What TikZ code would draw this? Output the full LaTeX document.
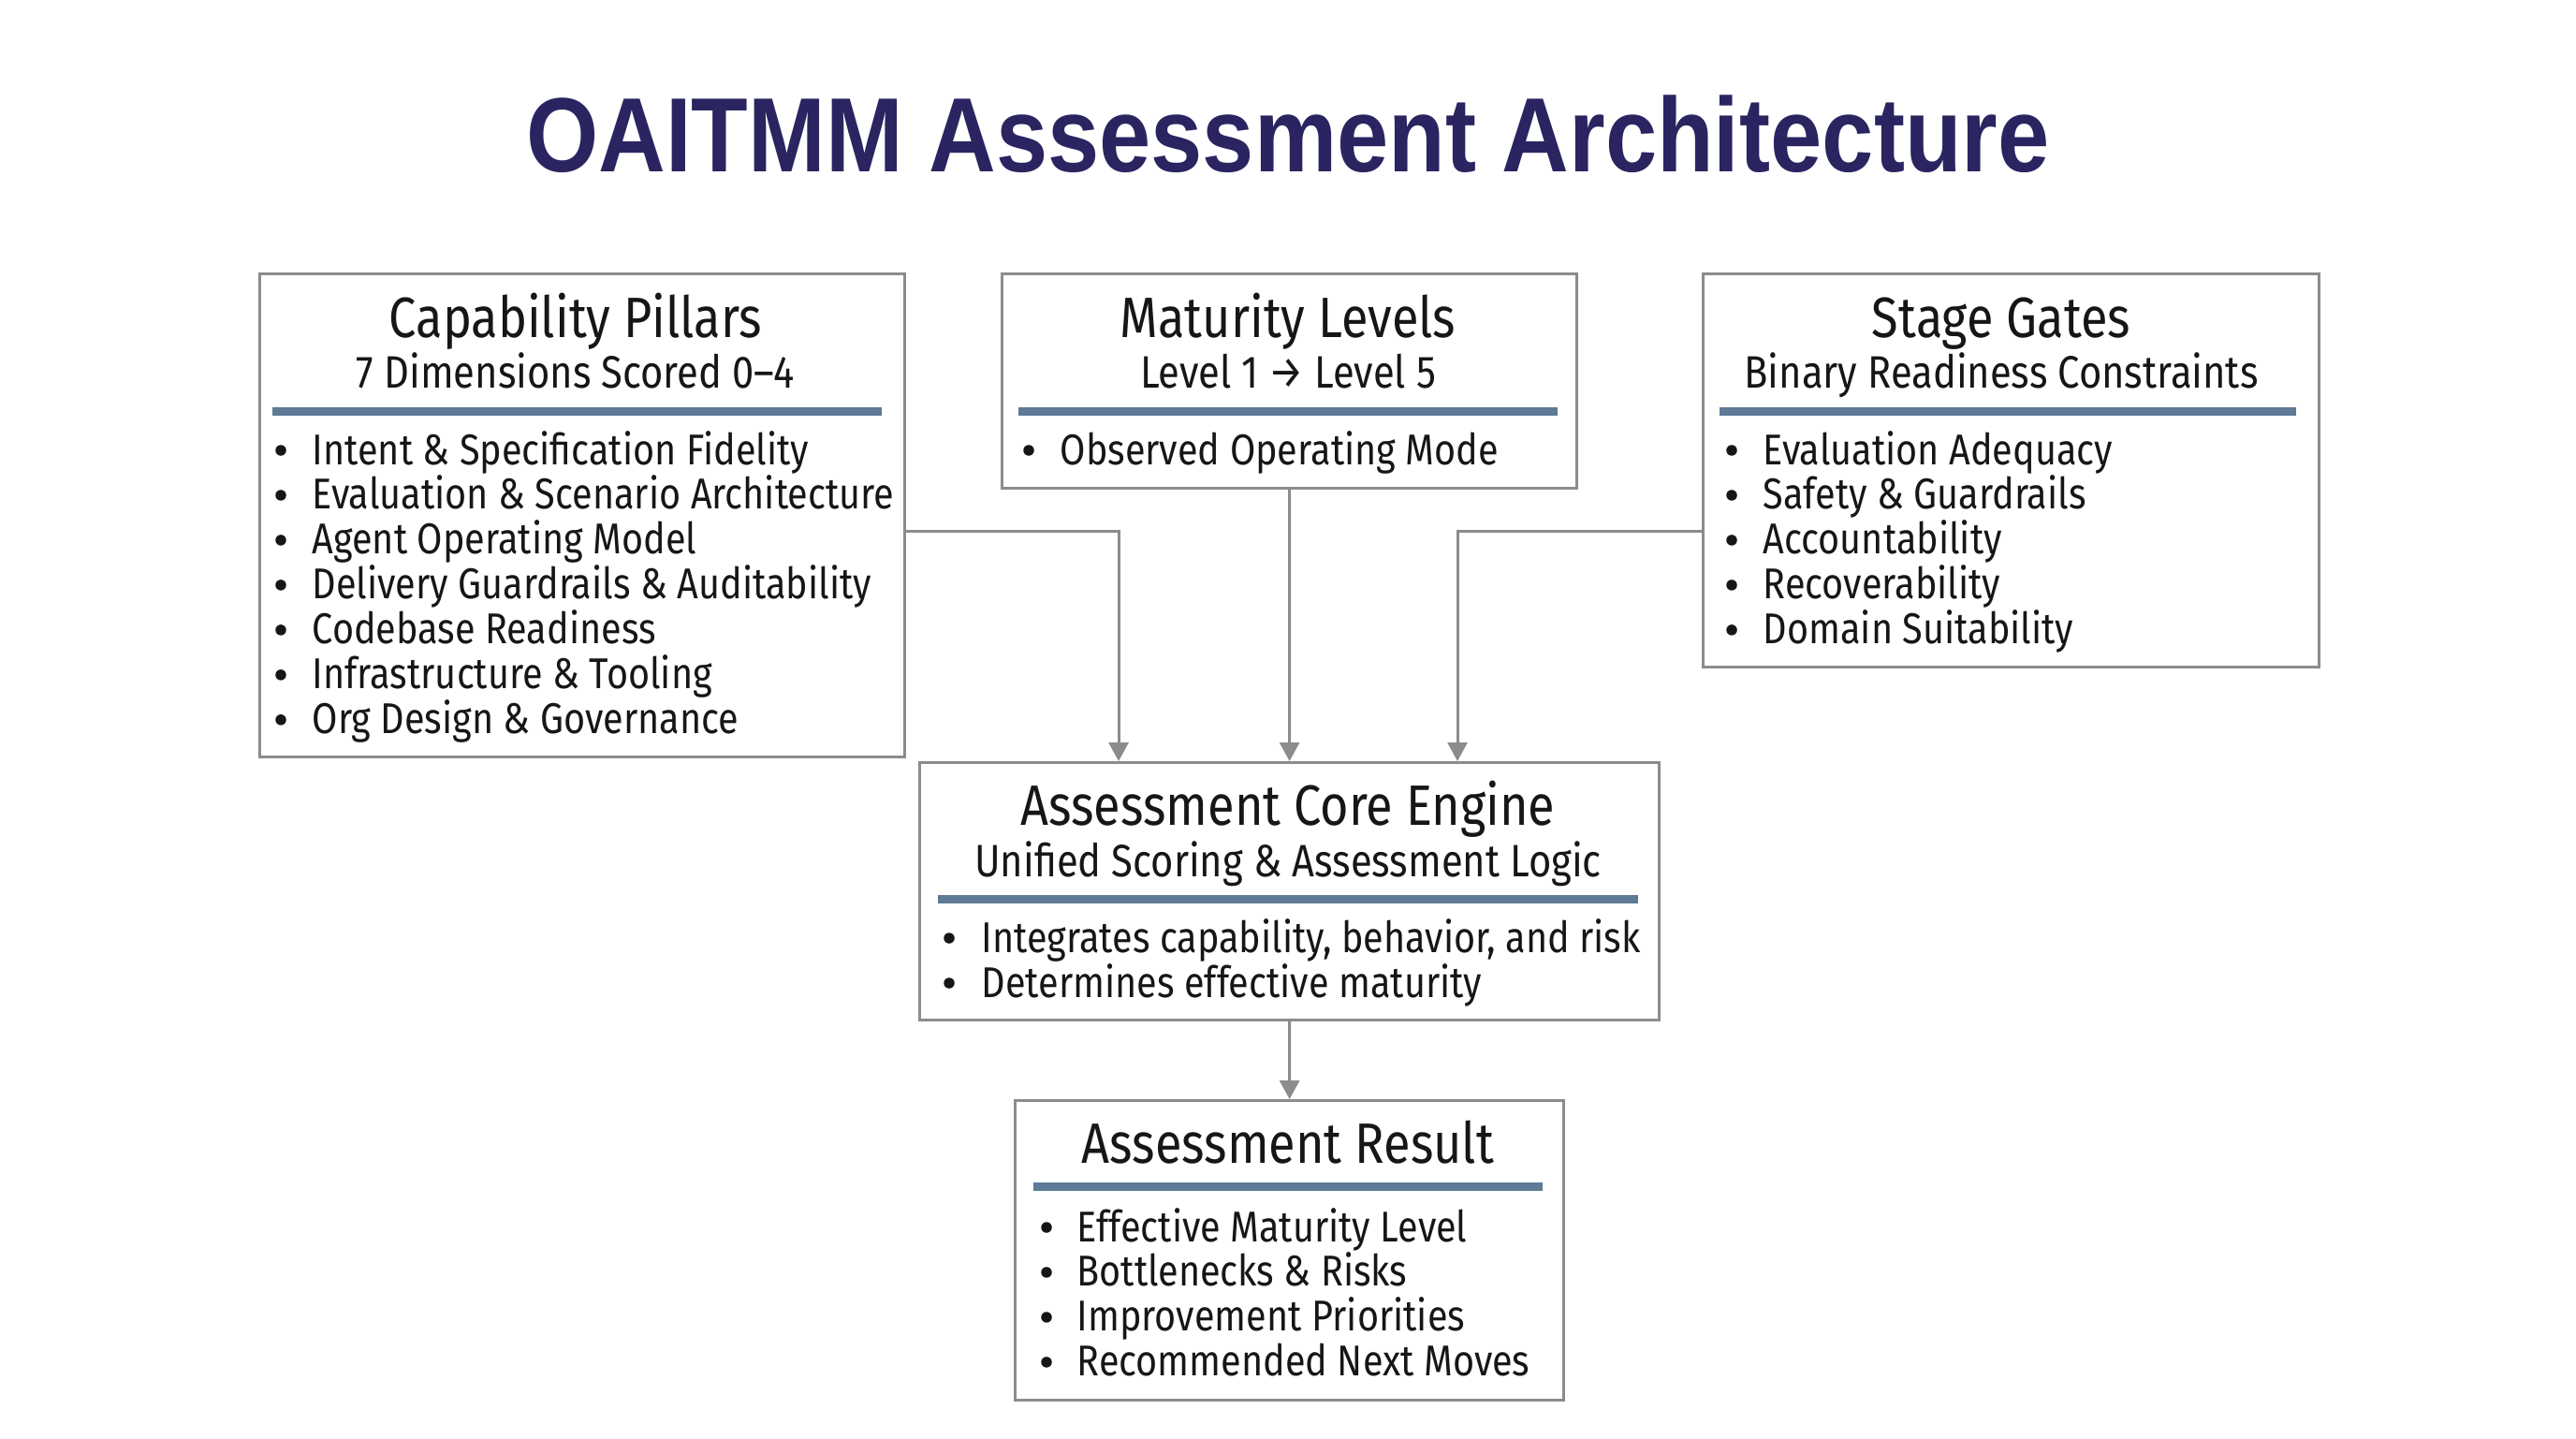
\documentclass[tikz,border=0pt]{standalone}
\usepackage{fontspec}
\setmainfont{Fira Sans}[FakeStretch=0.86]
\newfontfamily\titlefont{Liberation Sans}[FakeStretch=0.88]
\usetikzlibrary{arrows.meta}
\definecolor{titleblue}{HTML}{2A2560}
\definecolor{bargray}{HTML}{5E7A96}
\definecolor{edgegray}{HTML}{8C8C8C}
\definecolor{inkc}{HTML}{161616}
\tikzset{
  box/.style={draw=edgegray, line width=0.9pt, fill=white, inner sep=0pt, anchor=north west},
  hdr/.style={anchor=base, inner sep=0pt, text=inkc, font=\fontsize{17.3pt}{19pt}\selectfont},
  sub/.style={anchor=base, inner sep=0pt, text=inkc, font=\fontsize{13.8pt}{15pt}\selectfont},
  itm/.style={anchor=base west, inner sep=0pt, text=inkc, font=\fontsize{13.1pt}{15pt}\selectfont},
  bul/.style={circle, fill=inkc, draw=none, inner sep=0pt, minimum size=0.115cm},
  bar/.style={draw=none, fill=bargray},
  conn/.style={draw=edgegray, line width=0.85pt, -{Triangle[width=0.21cm,length=0.2cm]}},
}
\begin{document}
\begin{tikzpicture}[x=1cm,y=1cm]
\fill[white] (0,0) rectangle (27.52,-15.36);
\useasboundingbox (0,0) rectangle (27.52,-15.36);

% title
\node[anchor=base, inner sep=0pt, text=titleblue] (title) at (13.76,-1.84)
  {\titlefont\bfseries\fontsize{32.1pt}{36pt}\selectfont OAITMM Assessment Architecture};

% boxes
\node[box, minimum width=6.89cm, minimum height=5.16cm] (cap) at (2.76,-2.91) {};
\node[box, minimum width=6.14cm, minimum height=2.29cm] (mat) at (10.69,-2.91) {};
\node[box, minimum width=6.58cm, minimum height=4.20cm] (sg) at (18.18,-2.91) {};
\node[box, minimum width=7.90cm, minimum height=2.75cm] (core) at (9.81,-8.13) {};
\node[box, minimum width=5.86cm, minimum height=3.20cm] (res) at (10.83,-11.74) {};

% Capability Pillars
\node[hdr] (caph) at (6.15,-3.60) {Capability Pillars};
\node[sub] (caps) at (6.15,-4.14) {7 Dimensions Scored 0–4};
\fill[bar] (2.91,-4.35) rectangle (9.42,-4.44);
\foreach \t [count=\i from 0] in {Intent \& Specification Fidelity,Evaluation \& Scenario Architecture,Agent Operating Model,Delivery Guardrails \& Auditability,Codebase Readiness,Infrastructure \& Tooling,Org Design \& Governance}{
  \node[bul] (capb\i) at (3.00,-4.81-0.4797*\i) {};
  \node[itm] (capi\i) at (3.33,-4.96-0.4797*\i) {\t};
}

% Maturity Levels
\node[hdr] (math) at (13.76,-3.60) {Maturity Levels};
\node[sub] (mats) at (13.76,-4.14) {Level 1 → Level 5};
\fill[bar] (10.88,-4.35) rectangle (16.64,-4.44);
\node[bul] (matb0) at (10.99,-4.81) {};
\node[itm] (mati0) at (11.32,-4.96) {Observed Operating Mode};

% Stage Gates
\node[hdr] (sgh) at (21.38,-3.60) {Stage Gates};
\node[sub] (sgs) at (21.38,-4.14) {Binary Readiness Constraints};
\fill[bar] (18.37,-4.35) rectangle (24.53,-4.44);
\foreach \t [count=\i from 0] in {Evaluation Adequacy,Safety \& Guardrails,Accountability,Recoverability,Domain Suitability}{
  \node[bul] (sgb\i) at (18.50,-4.81-0.4797*\i) {};
  \node[itm] (sgi\i) at (18.83,-4.96-0.4797*\i) {\t};
}

% Core Engine
\node[hdr] (coreh) at (13.76,-8.81) {Assessment Core Engine};
\node[sub] (cores) at (13.76,-9.36) {Unified Scoring \& Assessment Logic};
\fill[bar] (10.02,-9.56) rectangle (17.50,-9.65);
\node[bul] (coreb0) at (10.14,-10.02) {};
\node[itm] (corei0) at (10.48,-10.17) {Integrates capability, behavior, and risk};
\node[bul] (coreb1) at (10.14,-10.50) {};
\node[itm] (corei1) at (10.48,-10.65) {Determines effective maturity};

% Result
\node[hdr] (resh) at (13.76,-12.42) {Assessment Result};
\fill[bar] (11.04,-12.63) rectangle (16.48,-12.72);
\foreach \t [count=\i from 0] in {Effective Maturity Level,Bottlenecks \& Risks,Improvement Priorities,Recommended Next Moves}{
  \node[bul] (resb\i) at (11.18,-13.11-0.4797*\i) {};
  \node[itm] (resi\i) at (11.50,-13.26-0.4797*\i) {\t};
}

% connectors
\coordinate (capout) at (cap.east |- 0,-5.67);
\coordinate (sgout) at (sg.west |- 0,-5.67);
\draw[conn] (capout) -| (core.north -| 11.95,0);
\draw[conn] (mat.south) -- (core.north);
\draw[conn] (sgout) -| (core.north -| 15.57,0);
\draw[conn] (core.south) -- (res.north);
\end{tikzpicture}
\end{document}
